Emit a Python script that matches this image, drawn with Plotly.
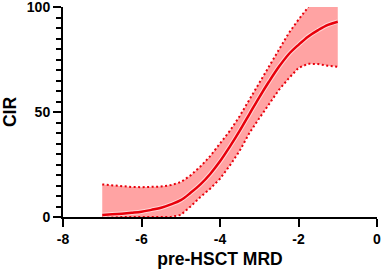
import plotly.graph_objects as go

# pre-HSCT MRD (log10) grid
mrd = [-7.0, -6.75, -6.5, -6.25, -6.0, -5.75, -5.5, -5.25, -5.0, -4.75, -4.5, -4.25,
       -4.0, -3.75, -3.5, -3.25, -3.0, -2.75, -2.5, -2.25, -2.0, -1.75, -1.5, -1.25, -1.0]
# cumulative incidence of relapse (%)
cir_mean = [1.0, 1.3, 1.6, 2.0, 2.5, 3.4, 4.4, 6.0, 8.0, 11.5, 15.5, 20.5,
            26.5, 33.5, 41.0, 49.0, 57.0, 64.5, 71.5, 77.5, 82.0, 86.0, 89.0, 91.5, 93.0]
cir_upper = [15.5, 15.0, 14.6, 14.3, 14.2, 14.2, 14.5, 15.2, 16.6, 19.8, 24.0, 29.0,
             35.0, 41.0, 48.0, 56.0, 64.0, 72.0, 80.0, 87.5, 94.0, 100.0, 100.0, 100.0, 100.0]
cir_lower = [0.0, 0.0, 0.0, 0.0, 0.0, 0.0, 0.0, 0.0, 1.0, 5.0, 9.5, 13.5,
             18.2, 24.5, 31.5, 40.0, 47.0, 54.0, 60.5, 66.0, 71.0, 73.0, 72.8, 72.0, 71.5]

x_ticks = [-8, -6, -4, -2, 0]
y_ticks = [0, 50, 100]

RED = "#E8000B"
FILL = "#FFA3A3"

# dotted bound line is hidden where the band is capped at the axis limit
upper_line = [v if v < 100 else None for v in cir_upper]
upper_line[cir_upper.index(100.0)] = 100.0

fig = go.Figure()
fig.add_trace(go.Scatter(x=mrd, y=cir_lower, mode="lines", line=dict(width=0),
                         hoverinfo="skip", showlegend=False))
fig.add_trace(go.Scatter(x=mrd, y=cir_upper, mode="lines", line=dict(width=0),
                         fill="tonexty", fillcolor=FILL, hoverinfo="skip", showlegend=False))
fig.add_trace(go.Scatter(x=mrd, y=upper_line, mode="lines", connectgaps=False,
                         line=dict(color=RED, width=2, dash="2px,2.5px"),
                         showlegend=False))
fig.add_trace(go.Scatter(x=mrd, y=cir_lower, mode="lines",
                         line=dict(color=RED, width=2, dash="2px,2.5px"),
                         showlegend=False))
fig.add_trace(go.Scatter(x=mrd, y=cir_mean, mode="lines",
                         line=dict(color="#FFD6D6", width=4.5, shape="spline"),
                         hoverinfo="skip", showlegend=False))
fig.add_trace(go.Scatter(x=mrd, y=cir_mean, mode="lines",
                         line=dict(color=RED, width=2.5, shape="spline"),
                         showlegend=False))

font_family = "Liberation Sans, Arial, sans-serif"
fig.update_layout(
    width=383, height=274,
    margin=dict(l=63, r=6, t=7, b=57),
    paper_bgcolor="white", plot_bgcolor="white",
    font=dict(family=font_family, color="black"),
    xaxis=dict(range=[-8, 0], tickvals=x_ticks, ticktext=[str(v) for v in x_ticks],
               automargin=False, ticklabeloverflow="allow",
               showgrid=False, zeroline=False, showline=True, linecolor="black", linewidth=2,
               ticks="outside", ticklen=8, tickwidth=2, tickcolor="black",
               tickfont=dict(size=14, family=font_family, weight="bold"),
               title=dict(text="<b>pre-HSCT MRD</b>", font=dict(size=17.5), standoff=7)),
    yaxis=dict(range=[0, 100], tickvals=y_ticks, showgrid=False, zeroline=False,
               automargin=False, ticklabeloverflow="allow",
               showline=True, linecolor="black", linewidth=2,
               ticks="outside", ticklen=8, tickwidth=2, tickcolor="black",
               minor=dict(dtick=5, ticks="outside", ticklen=5, tickwidth=1.5, tickcolor="black"),
               tickfont=dict(size=14, family=font_family, weight="bold"),
               title=dict(text="<b>CIR</b>", font=dict(size=17.5), standoff=10)),
)

fig.write_html("out.html", config={"displayModeBar": False},
               post_script="document.body.style.margin='0';")
